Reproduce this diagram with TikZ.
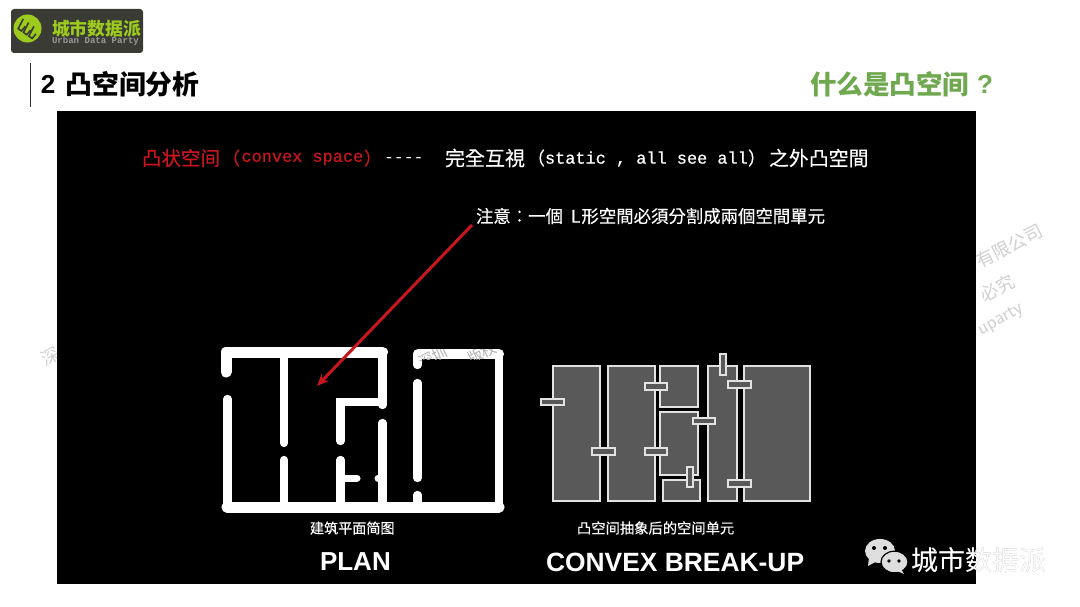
\documentclass[tikz,border=0pt]{standalone}
\usepackage{fontspec}
\setmainfont{Liberation Sans}
\newfontfamily\cjk{Noto Sans CJK SC}
\newfontfamily\cjt{Noto Sans CJK TC}
\newfontfamily\cjkm[FakeBold=0.25]{Noto Sans CJK SC}
\newfontfamily\cjkh[FakeBold=0.6]{Noto Sans CJK SC}
\newfontfamily\cjtm[FakeBold=0.25]{Noto Sans CJK TC}
\newfontfamily\monof{Liberation Mono}
\newfontfamily\monom[FakeBold=0.6]{Liberation Mono}
\usetikzlibrary{arrows.meta}
\definecolor{wmark}{HTML}{D0D0D0}
\definecolor{lime}{HTML}{9CCB1E}
\definecolor{logobg}{HTML}{3B3B35}
\definecolor{headgreen}{HTML}{6FA84F}
\definecolor{redtxt}{HTML}{C8161D}
\definecolor{unitfill}{HTML}{595959}
\definecolor{unitline}{HTML}{E2E2E2}
\tikzset{
  wall/.style={draw=white,line width=8.3pt,line cap=round},
  wallthick/.style={draw=white,line width=11pt,line cap=round,line join=round},
  unit/.style={draw=unitline,fill=unitfill,line width=1.7pt},
  txt/.style={inner sep=0pt,outer sep=0pt,anchor=west},
  wm/.style={inner sep=0pt,text=wmark,rotate=27,font=\cjk\fontsize{18}{18}\selectfont},
}
\newcommand{\fs}[1]{\fontsize{#1}{#1}\selectfont}
\begin{document}
\begin{tikzpicture}[x=1pt,y=-1pt]
\useasboundingbox (0,0) rectangle (1080,607);
\fill[white] (0,0) rectangle (1080,607);
% watermarks on the page
\node[wm] (w1) at (1009,246) {有限公司};
\node[wm] (w2) at (997,288) {必究};
\node[wm,rotate=3,font=\fontfamily{lmss}\fs{20}] (w3) at (1001,320) {uparty};
\node[wm] (w4) at (50,356) {深};
% black panel
\fill[black] (57,111) rectangle (976,584);
% logo
\fill[logobg,rounded corners=3pt] (11,9) rectangle (143,53);
\fill[lime] (27.5,28.5) circle (14);
\foreach \a in {0,1,2}{
  \draw[logobg,line width=1.6pt,rotate around={-35:(27.5,28.5)}] (18.5+\a*6.5,23) -- (20+\a*6.5,34) -- (24+\a*6.5,34) -- (24.5+\a*6.5,28);
}
\node[txt,text=lime,font=\cjk\bfseries\fs{17.8}] (logot) at (52,28.5) {城市数据派};
\node[txt,text=gray!80,font=\monof\bfseries\fs{9.05}] (logos) at (52,41) {Urban Data Party};
% heading
\draw[black!80,line width=1.6pt] (30.5,63) -- (30.5,107);
\node[txt,font=\fs{26}\bfseries] (h2) at (41,84) {2};
\node[txt,font=\cjk\bfseries\fs{26.8}] (h1) at (65.5,84) {凸空间分析};
\node[txt,text=headgreen,font=\cjk\bfseries\fs{26.5}] (hr) at (810,84) {什么是凸空间};
\node[txt,text=headgreen,font=\bfseries\fs{26}] (hq) at (977,84) {?};
% title line
\node[txt,text=redtxt,font=\cjkh\fs{19.5}] (t1) at (142,158) {凸状空间};
\node[txt,text=redtxt,font=\cjkm\fs{18}] (t2) at (222,158) {（};
\node[txt,text=redtxt,font=\monom\fs{16.9}] (t3) at (241.5,159) {convex space};
\node[txt,text=redtxt,font=\cjkm\fs{18}] (t4) at (364,158) {）};
\node[txt,text=white,font=\monof\fs{16.5}] (t5) at (384,160) {----};
\node[txt,text=white,font=\cjtm\fs{20}] (t6) at (445,158) {完全互視};
\node[txt,text=white,font=\cjkm\fs{18}] (t7) at (527,158) {（};
\node[txt,text=white,font=\monom\fs{16.9}] (t8) at (545,159) {static , all see all};
\node[txt,text=white,font=\cjkm\fs{18}] (t9) at (748,158) {）};
\node[txt,text=white,font=\cjtm\fs{19.9}] (t10) at (769,158) {之外凸空間};
% note
\node[txt,text=white,font=\cjtm\fs{17.4}] (note) at (476,216) {注意：一個\hspace{8pt}L\hspace{1pt}形空間必須分割成兩個空間單元};
\coordinate (arrowfrom) at (472,225);
\coordinate (arrowto) at (317,386);
% plan
\draw[wallthick] (226,372) -- (226,352) -- (382.5,352);
\draw[wall] (382.5,352) -- (382.5,405);
\draw[wall] (227.5,399) -- (227.5,507);
\draw[wallthick] (227,507) -- (499,507);
\draw[wall] (499,507) -- (499,354);
\draw[wallthick,line width=10pt] (499,354) -- (418,354);
\draw[wall] (417.5,354) -- (417.5,365);
\draw[wall] (417.5,383) -- (417.5,478);
\draw[wall] (417.5,495) -- (417.5,507);
\draw[wall] (284,352) -- (284,443);
\draw[wall] (284,460) -- (284,507);
\draw[wall] (382.5,423) -- (382.5,507);
\draw[wall] (340.5,441) -- (340.5,402) -- (382,402);
\draw[wall] (340.5,460) -- (340.5,507);
\draw[wall,line width=7pt] (341,478) -- (357,478);
\draw[wall,line width=7pt] (378,478) -- (382,478);
% watermark fragments showing on the white walls
\begin{scope}
\clip (413,349) rectangle (504,359) (413,349) rectangle (422,369);
\node[wm,font=\cjk\fs{15},text=black!30] (w5) at (433,357) {深圳};
\node[wm,font=\cjk\fs{15},text=black!30] (w6) at (482,353) {版权};
\end{scope}
% arrow
\draw[redtxt,line width=3pt,-{Stealth[length=12pt,width=10pt]}] (arrowfrom) -- (arrowto);
% convex units
\draw[unit] (552.7,366) rectangle (599.7,500.7);
\draw[unit] (607.7,366) rectangle (654.7,500.7);
\draw[unit] (660,366) rectangle (697.7,407);
\draw[unit] (660,412) rectangle (697.7,475.3);
\draw[unit] (662.7,480.3) rectangle (700.3,500.7);
\draw[unit] (708.3,366) rectangle (737.3,500.7);
\draw[unit] (744,366) rectangle (810,500.7);
\draw[unit] (541.3,398.7) rectangle (563.7,405);
\draw[unit] (592.3,448.3) rectangle (614.7,455);
\draw[unit] (644.7,383) rectangle (667,389.7);
\draw[unit] (644.7,448.3) rectangle (667,455);
\draw[unit] (693.3,417.7) rectangle (715.3,424);
\draw[unit] (719.7,354.3) rectangle (726.3,374.7);
\draw[unit] (728.3,381.3) rectangle (750.7,387.7);
\draw[unit] (728.3,480.3) rectangle (750.7,487);
\draw[unit] (687,467) rectangle (693.3,487);
% captions
\node[txt,text=white,font=\cjkm\fs{14.1}] (c1) at (310,528) {建筑平面简图};
\node[txt,text=white,font=\cjkm\fs{14.3}] (c2) at (577,528) {凸空间抽象后的空间单元};
\node[txt,text=white,font=\bfseries\fs{26}] (c3) at (320,562) {PLAN};
\node[txt,text=white,font=\bfseries\fs{26.4}] (c4) at (546,562) {CONVEX BREAK-UP};
% wechat mark
\fill[black!13] (880,551) ellipse (15 and 12);
\fill[black!13] (869,558) -- (868,566) -- (877,561) -- cycle;
\draw[black,fill=black!13,line width=1.2pt] (894.5,562) ellipse (13.5 and 10.8);
\fill[black!13] (901,569) -- (904,574) -- (897,571) -- cycle;
\foreach \p in {(874,548),(885,548)} \fill[black] \p circle (2);
\foreach \p in {(889,561),(899,561)} \fill[black] \p circle (1.8);
\node[txt,text=black!40,font=\cjk\fs{27}] (wt0) at (911.6,560.6) {城市数据派};
\node[txt,text=white,font=\cjk\fs{27}] (wt) at (911,560) {城市数据派};
\end{tikzpicture}
\end{document}
